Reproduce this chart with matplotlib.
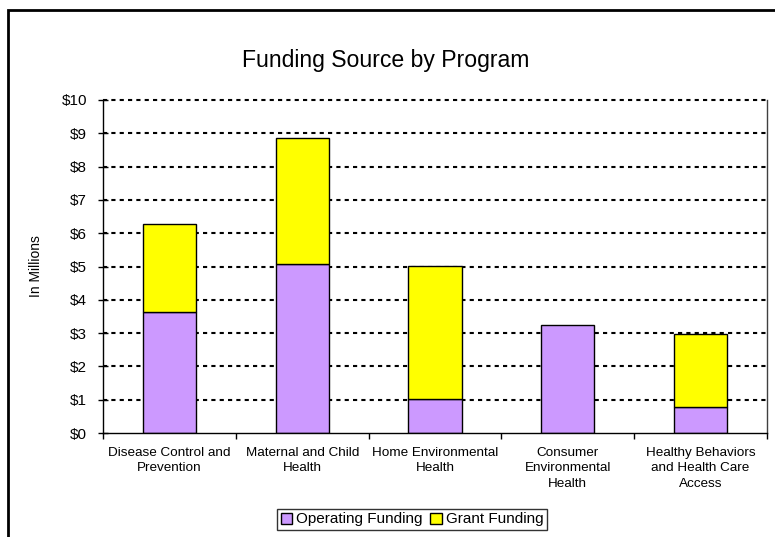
import matplotlib
matplotlib.use("Agg")
import matplotlib.pyplot as plt
from matplotlib.patches import Rectangle, Patch
import numpy as np

plt.rcParams['font.family'] = ['Liberation Sans', 'DejaVu Sans']

categories = ["Disease Control and\nPrevention", "Maternal and Child\nHealth",
              "Home Environmental\nHealth", "Consumer\nEnvironmental\nHealth",
              "Healthy Behaviors\nand Health Care\nAccess"]
operating = [3.63, 5.07, 1.01, 3.23, 0.77]
grant = [2.64, 3.80, 4.01, 0.0, 2.19]
ytick_labels = ["$0", "$1", "$2", "$3", "$4", "$5", "$6", "$7", "$8", "$9", "$10"]
title = "Funding Source by Program"
ylabel = "In Millions"
series_names = ["Operating Funding", "Grant Funding"]

W, H = 775, 537
fig = plt.figure(figsize=(W/100, H/100), dpi=100)
ax = fig.add_axes([103/W, 1-433/H, (767-103)/W, (433-100)/H])

x = np.arange(len(categories))
c_op = "#CC99FF"
c_gr = "#FFFF00"
ax.bar(x, operating, width=0.4, color=c_op, edgecolor="black", linewidth=1, zorder=3)
gx = [xi for xi, g in zip(x, grant) if g > 0]
gb = [o for o, g in zip(operating, grant) if g > 0]
gv = [g for g in grant if g > 0]
ax.bar(gx, gv, bottom=gb, width=0.4, color=c_gr, edgecolor="black", linewidth=1, zorder=3)

ax.set_xlim(-0.5, len(categories) - 0.5)
ax.set_ylim(0, 10)
ax.set_yticks(range(11))
ax.set_yticklabels(ytick_labels, fontsize=11)
ax.tick_params(axis='y', direction='inout', length=7, width=1, pad=8)

ax.set_xticks(x)
ax.set_xticklabels(categories, fontsize=9.7, linespacing=1.4)
ax.tick_params(axis='x', which='major', length=0, pad=10)
ax.set_xticks(np.arange(-0.5, len(categories)), minor=True)
ax.tick_params(axis='x', which='minor', direction='out', length=4, width=1)

for yv in range(1, 11):
    ax.axhline(yv, color="black", linestyle=(0, (2, 2)), linewidth=1.5, zorder=1, clip_on=False)

ax.spines['top'].set_visible(False)
for s in ['left', 'bottom', 'right']:
    ax.spines[s].set_color('black')
    ax.spines[s].set_linewidth(1)
    ax.spines[s].set_zorder(4)
ax.spines['right'].set_color('#404040')

ax.set_ylabel(ylabel, fontsize=10)
ax.yaxis.set_label_coords((43 - 103) / (767 - 103), 0.5)
fig.text(386/W, 1-60/H, title, ha='center', va='center', fontsize=16.6)

handles = [Patch(facecolor=c_op, edgecolor='black'), Patch(facecolor=c_gr, edgecolor='black')]
leg = fig.legend(handles, series_names, loc='center', bbox_to_anchor=(412/W, 1-519.5/H),
                 ncol=2, fontsize=11, frameon=True, fancybox=False, edgecolor='black',
                 handlelength=0.75, handleheight=0.75, handletextpad=0.25, columnspacing=0.5,
                 borderpad=0.25, borderaxespad=0)
leg.get_frame().set_linewidth(1)

fig.patches.append(Rectangle((8/W, -0.1), 1.2, (1-10/H) + 0.1, fill=False, lw=2,
                             edgecolor='black', transform=fig.transFigure, clip_on=False))

fig.savefig("out.png", dpi=100)
